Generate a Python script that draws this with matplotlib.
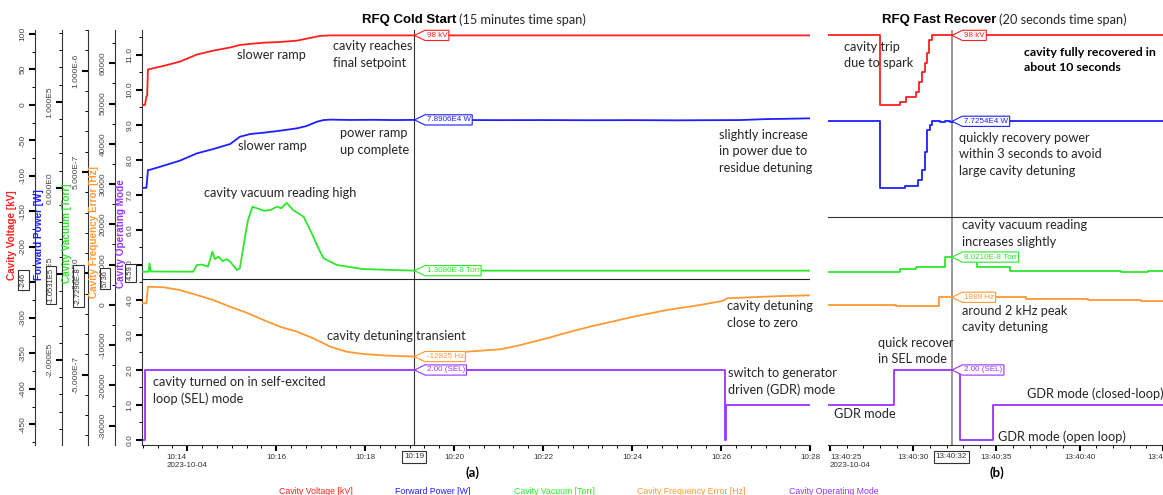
import numpy as np
import pandas as pd
import matplotlib
matplotlib.use("Agg")
import matplotlib.pyplot as plt
import matplotlib.dates as mdates
from matplotlib.ticker import AutoMinorLocator, MultipleLocator, FuncFormatter
from matplotlib.lines import Line2D
from matplotlib.path import Path

plt.rcParams["font.family"] = ["Liberation Sans", "DejaVu Sans"]

DAY = "2023-10-04"

# ---------------- (a) RFQ cold start, 15 minutes ----------------
cold_volt_t = ["10:12:59", "10:13:03", "10:13:05", "10:13:06", "10:13:07", "10:13:28", "10:13:50",
               "10:14:13", "10:14:35", "10:14:58", "10:15:11", "10:15:25", "10:15:43", "10:16:05",
               "10:16:28", "10:16:41", "10:16:59", "10:17:13", "10:19:06", "10:28:00"]
cold_volt = [0, 0, 12, 13, 50, 55, 61, 71, 76.5, 81, 84.5, 86, 87.7, 88.7, 90.6, 93.4, 97.2, 98, 98, 98]

cold_pow_t = ["10:12:59", "10:13:05", "10:13:07", "10:13:10", "10:13:28", "10:13:50", "10:14:13",
              "10:14:35", "10:14:58", "10:15:11", "10:15:25", "10:15:43", "10:16:05", "10:16:28",
              "10:16:41", "10:16:55", "10:17:04", "10:17:13", "10:17:40", "10:18:10", "10:18:40",
              "10:19:06", "10:20:00", "10:21:00", "10:22:00", "10:23:00", "10:24:00", "10:25:00",
              "10:26:00", "10:26:26", "10:27:00", "10:27:30", "10:28:00"]
cold_pow = [0, 0, 2.07e4, 2.1e4, 2.57e4, 3.15e4, 4.0e4, 4.5e4, 5.09e4, 5.93e4, 6.25e4, 6.4e4,
            6.63e4, 6.91e4, 7.18e4, 7.68e4, 7.87e4, 7.92e4, 7.88e4, 7.9e4, 7.87e4, 7.89e4, 7.88e4,
            7.86e4, 7.87e4, 7.85e4, 7.86e4, 7.84e4, 7.86e4, 7.87e4, 7.98e4, 8.02e4, 8.07e4]

cold_vac_t = ["10:12:59", "10:13:08", "10:13:09", "10:13:11", "10:14:08", "10:14:13", "10:14:20",
              "10:14:28", "10:14:34", "10:14:37", "10:14:42", "10:14:48", "10:14:53", "10:14:58",
              "10:15:04", "10:15:07", "10:15:11", "10:15:18", "10:15:22", "10:15:28", "10:15:43",
              "10:15:52", "10:16:01", "10:16:07", "10:16:14", "10:16:23", "10:16:37", "10:16:48",
              "10:16:57", "10:17:04", "10:17:22", "10:17:57", "10:19:06", "10:28:00"]
cold_vac = [7.9e-9, 7.9e-9, 4.9e-8, 9e-9, 8e-9, 4.1e-8, 4.3e-8, 3.3e-8, 1.07e-7, 7.0e-8, 8.2e-8,
            6.0e-8, 7.0e-8, 5.7e-8, 3.0e-8, 1.6e-8, 2.5e-8, 1.81e-7, 2.63e-7, 3.29e-7, 3.09e-7,
            3.12e-7, 3.29e-7, 3.21e-7, 3.48e-7, 3.12e-7, 2.79e-7, 1.97e-7, 1.23e-7, 7.4e-8, 4.1e-8,
            2.1e-8, 1.308e-8, 1.3e-8]

cold_freq_t = ["10:12:59", "10:13:05", "10:13:07", "10:13:28", "10:13:50", "10:14:13", "10:14:35",
               "10:14:58", "10:15:20", "10:15:43", "10:16:05", "10:16:28", "10:16:50", "10:17:13",
               "10:17:35", "10:17:57", "10:18:30", "10:19:06", "10:19:54", "10:20:17", "10:21:02",
               "10:21:24", "10:22:00", "10:22:32", "10:23:03", "10:24:02", "10:24:47", "10:25:32",
               "10:26:03", "10:26:08", "10:26:39", "10:27:24", "10:28:00"]
cold_freq = [400, 400, 4520, 4370, 3700, 2460, 1220, -450, -1940, -3750, -5410, -6650, -8290,
             -10380, -11620, -12190, -12600, -12825, -12400, -11620, -11030, -10210, -8540, -6900,
             -5410, -2930, -1270, -20, 1040, 1640, 1890, 2210, 2380]

cold_mode_t = ["10:12:59", "10:13:03", "10:26:05", "10:26:07", "10:28:00"]
cold_mode = [0, 2, 0, 1, 1]

cold_range = ["10:12:59", "10:28:00"]
cold_cursor = "10:19:06"

# ---------------- (b) RFQ fast recover, 20 seconds ----------------
fast_volt_t = ["13:40:24.8", "13:40:28.0", "13:40:29.2", "13:40:29.55", "13:40:30.15", "13:40:30.35",
               "13:40:30.5", "13:40:30.7", "13:40:30.83", "13:40:30.95", "13:40:31.15", "13:40:45.0"]
fast_volt = [98, 0, 4.7, 11.7, 18.7, 32.8, 46.9, 58.7, 72.8, 91.5, 98, 98]

fast_pow_t = ["13:40:24.8", "13:40:28.0", "13:40:29.5", "13:40:30.3", "13:40:30.5", "13:40:30.7",
              "13:40:30.84", "13:40:31.0", "13:40:31.15", "13:40:31.6", "13:40:31.9", "13:40:32.2",
              "13:40:32.5", "13:40:37.5", "13:40:42.7", "13:40:43.1", "13:40:44.2", "13:40:44.5",
              "13:40:45.0"]
fast_pow = [7.73e4, 0, 1.6e3, 9.3e3, 2.1e4, 4.2e4, 6.7e4, 7.3e4, 7.75e4, 7.7e4, 7.76e4, 7.7e4,
            7.725e4, 7.76e4, 7.72e4, 7.76e4, 7.72e4, 7.76e4, 7.76e4]

fast_vac_t = ["13:40:24.8", "13:40:29.2", "13:40:30.17", "13:40:31.9", "13:40:33.8", "13:40:35.8",
              "13:40:42.5", "13:40:44.1", "13:40:45.0"]
fast_vac = [7.9e-9, 1.97e-8, 2.96e-8, 8.021e-8, 2.96e-8, 1.1e-8, 5e-9, 1.1e-8, 1.1e-8]

fast_freq_t = ["13:40:24.8", "13:40:28.96", "13:40:31.55", "13:40:36.8", "13:40:40.5", "13:40:43.7",
               "13:40:45.0"]
fast_freq = [80, -170, 1889, 1470, 1320, 1070, 1070]

fast_mode_t = ["13:40:24.8", "13:40:28.83", "13:40:32.8", "13:40:34.8", "13:40:45.0"]
fast_mode = [1, 2, 0, 1, 1]

fast_range = ["13:40:24.88", "13:40:45.0"]
fast_cursor = "13:40:32.3"

# axis ranges and cursor readouts
volt_lim = (-479, 105.6)
pow_lim = (-2.987e5, 1.833e5)
vac_lim = (-8.475e-7, 1.201e-6)
freq_lim = (-34790, 68265)
mode_lim = (-0.143, 11.714)
cold_hcursor = 4.59
fast_hcursor = 6.37

C_VOLT = "#ff1f1f"
C_POW = "#1f1fff"
C_VAC = "#2ee62e"
C_FREQ = "#ff9933"
C_MODE = "#9933ff"
TXT = "#262626"

series_names = ["Cavity Voltage [kV]", "Forward Power [W]", "Cavity Vacuum [Torr]",
                "Cavity Frequency Error [Hz]", "Cavity Operating Mode"]
series_colors = [C_VOLT, C_POW, C_VAC, C_FREQ, C_MODE]


def tm(lst):
    return pd.to_datetime([f"{DAY} {t}" for t in lst]).to_numpy()


def one(t):
    return mdates.date2num(np.datetime64(pd.Timestamp(f"{DAY} {t}")))


W, H = 1163, 495
fig = plt.figure(figsize=(W / 100, H / 100), dpi=100)


def fx(x):
    return x / W


def fy(y):
    return 1 - y / H


def sci(v, pos=None):
    if v == 0:
        return "0.000E0"
    e = int(np.floor(np.log10(abs(v)) + 1e-9))
    return f"{v / 10 ** e:.3f}E{e}"


def tag_box(x0, y0, width, height, mutation_size):
    pad = 0.2 * mutation_size
    tip = 1.3 * mutation_size
    x0, y0 = x0 - pad, y0 - pad
    x1, y1 = x0 + width + 2 * pad, y0 + height + 2 * pad
    ym = (y0 + y1) / 2
    return Path([(x0 - tip, ym), (x0, y0), (x1, y0), (x1, y1), (x0, y1), (x0 - tip, ym)], closed=True)


def build_panel(rect, show_y):
    ax_mode = fig.add_axes(rect)
    ax_freq = ax_mode.twinx()
    ax_vac = ax_mode.twinx()
    ax_pow = ax_mode.twinx()
    ax_volt = ax_mode.twinx()
    axes = [ax_volt, ax_pow, ax_vac, ax_freq, ax_mode]
    lims = [volt_lim, pow_lim, vac_lim, freq_lim, mode_lim]
    offsets = [35, 62, 88, 115, 142]
    majors = [50, 1e5, 5e-7, 10000, 1.0]
    minors = [2, 5, 5, 2, 2]
    fmts = [lambda v, p: f"{v:.0f}", sci, sci, lambda v, p: f"{v:.0f}", lambda v, p: f"{v:.1f}"]
    for ax, lim, off, mj, mn, fm in zip(axes, lims, offsets, majors, minors, fmts):
        ax.set_ylim(*lim)
        for s in ["top", "right"]:
            ax.spines[s].set_visible(False)
        if ax is not ax_mode:
            ax.spines["bottom"].set_visible(False)
        if show_y:
            ax.yaxis.set_ticks_position("left")
            ax.spines["left"].set_visible(True)
            ax.spines["left"].set_position(("axes", (off - 142) / 668))
            ax.spines["left"].set_color("#333333")
            ax.spines["left"].set_linewidth(0.8)
            ax.yaxis.set_major_locator(MultipleLocator(mj))
            ax.yaxis.set_minor_locator(AutoMinorLocator(mn))
            ax.yaxis.set_major_formatter(FuncFormatter(fm))
            ax.tick_params(axis="y", which="major", length=4.5, width=1.5, labelsize=6,
                           labelcolor="#444444", labelrotation=90, pad=1.5)
            ax.tick_params(axis="y", which="minor", length=2.2, width=0.7)
            for t in ax.yaxis.get_major_ticks():
                t.label1.set_verticalalignment("center")
        else:
            ax.spines["left"].set_visible(False)
            ax.yaxis.set_visible(False)
    ax_mode.spines["bottom"].set_color("#333333")
    ax_mode.spines["bottom"].set_linewidth(0.8)
    ax_mode.tick_params(axis="x", which="major", length=4.5, width=1.5, labelsize=5.8,
                        labelcolor="#333333", pad=2)
    ax_mode.tick_params(axis="x", which="minor", length=2.2, width=0.7)
    return axes


cold_axes = build_panel([fx(142), 1 - 445 / H, 668 / W, 415 / H], True)
fast_axes = build_panel([fx(828), 1 - 445 / H, 335 / W, 415 / H], False)

# cold start traces
cold_data = [(cold_volt_t, cold_volt), (cold_pow_t, cold_pow), (cold_vac_t, cold_vac),
             (cold_freq_t, cold_freq), (cold_mode_t, cold_mode)]
for ax, (t, v), c in zip(cold_axes, cold_data, series_colors):
    ds = "steps-post" if ax is cold_axes[4] else "default"
    ax.plot(tm(t), v, color=c, lw=1.3, drawstyle=ds)

fast_data = [(fast_volt_t, fast_volt), (fast_pow_t, fast_pow), (fast_vac_t, fast_vac),
             (fast_freq_t, fast_freq), (fast_mode_t, fast_mode)]
for ax, (t, v), c in zip(fast_axes, fast_data, series_colors):
    ax.plot(tm(t), v, color=c, lw=1.3, drawstyle="steps-post")

# x axes
axa = cold_axes[4]
axb = fast_axes[4]
axa.set_xlim(tm(cold_range))
axb.set_xlim(tm(fast_range))


def make_fmt(ax, fmt, step):
    def f(x, pos):
        s = mdates.num2date(x).strftime(fmt)
        x0 = ax.get_xlim()[0]
        if x0 - 1e-9 <= x < x0 + step:
            s += "\n" + DAY
        return s
    return FuncFormatter(f)


axa.xaxis.set_major_locator(mdates.MinuteLocator(byminute=range(0, 60, 2)))
axa.xaxis.set_minor_locator(mdates.SecondLocator(bysecond=[0, 20, 40]))
axa.xaxis.set_major_formatter(make_fmt(axa, "%H:%M", 2 / 1440))
axb.xaxis.set_major_locator(mdates.SecondLocator(bysecond=range(0, 60, 5)))
axb.xaxis.set_minor_locator(mdates.SecondLocator())
axb.xaxis.set_major_formatter(make_fmt(axb, "%H:%M:%S", 5 / 86400))

# cursors
axa.axvline(one(cold_cursor), color="#333333", lw=0.8, zorder=1)
axa.axhline(cold_hcursor, color="#222222", lw=0.8, zorder=1)
axb.axvline(one(fast_cursor), color="#888888", lw=1.2, zorder=1)
axb.axhline(fast_hcursor, color="#333333", lw=0.8, zorder=1)

cold_tags = ["98 kV", "7.8906E4 W", "1.3080E-8 Torr", "-12825 Hz", "2.00 (SEL)"]
cold_tag_vals = [98, 7.8906e4, 1.308e-8, -12825, 2.0]
fast_tags = ["98 kV", "7.7254E4 W", "8.0210E-8 Torr", "1889 Hz", "2.00 (SEL)"]
fast_tag_vals = [98, 7.7254e4, 8.021e-8, 1889, 2.0]
for axes, cur, tags, vals in [(cold_axes, cold_cursor, cold_tags, cold_tag_vals),
                              (fast_axes, fast_cursor, fast_tags, fast_tag_vals)]:
    for ax, txt, v, c in zip(axes, tags, vals, series_colors):
        ax.annotate(txt, xy=(one(cur), v), xytext=(9, 0), textcoords="offset points",
                    ha="left", va="center", fontsize=5.8, color=c, zorder=20,
                    annotation_clip=False,
                    bbox=dict(boxstyle=tag_box, fc="white", ec=c, lw=0.8))

for ax, cur, txt in [(axa, cold_cursor, "10:19"), (axb, fast_cursor, "13:40:32")]:
    ax.text(one(cur), -0.0289, txt, transform=ax.get_xaxis_transform(), ha="center",
            va="center", fontsize=5.8, color="#333333", zorder=20,
            bbox=dict(boxstyle="square,pad=0.25", fc="white", ec="#333333", lw=0.8))

# y axis titles and horizontal cursor readouts on the left
label_pos = [(12, 280), (39, 280), (67, 283), (94, 298), (121, 288)]
for (x, y), name, c in zip(label_pos, series_names, series_colors):
    fig.text(fx(x), fy(y), name, rotation=90, ha="center", va="bottom", color=c,
             fontsize=7.2, fontweight="bold")
readouts = [("-246", 23.5, 280), ("-1.0531E5", 51, 285), ("-2.7296E-8", 78.5, 286),
            ("5736", 105, 278.5), ("4.59", 130.5, 273)]
for txt, x, y in readouts:
    fig.text(fx(x), fy(y), txt, rotation=90, ha="center", va="center", fontsize=5.5,
             color="#333333", zorder=20,
             bbox=dict(boxstyle="square,pad=0.25", fc="white", ec="#333333", lw=0.8))

# titles
fig.text(fx(456), fy(20), "RFQ Cold Start", ha="right", va="center", fontsize=9.5, fontweight="bold")
fig.text(fx(459), fy(20), "(15 minutes time span)", ha="left", va="center", fontsize=9.2,
         family="Lato", color=TXT)
fig.text(fx(996), fy(20), "RFQ Fast Recover", ha="right", va="center", fontsize=9.5, fontweight="bold")
fig.text(fx(999), fy(20), "(20 seconds time span)", ha="left", va="center", fontsize=9.2,
         family="Lato", color=TXT)
fig.text(fx(472), fy(473), "(a)", ha="center", va="center", fontsize=9.5, family="Lato",
         fontweight="bold")
fig.text(fx(997), fy(473), "(b)", ha="center", va="center", fontsize=9.5, family="Lato",
         fontweight="bold")

notes = [
    ("slower ramp", 237, 55, "normal"),
    ("cavity reaches\nfinal setpoint", 333, 54.7, "normal"),
    ("slower ramp", 238.5, 146, "normal"),
    ("power ramp\nup complete", 340, 141.3, "normal"),
    ("cavity vacuum reading high", 204, 193.3, "normal"),
    ("slightly increase\nin power due to\nresidue detuning", 719, 151.4, "normal"),
    ("cavity detuning transient", 327, 335.7, "normal"),
    ("cavity turned on in self-excited\nloop (SEL) mode", 153.3, 390.3, "normal"),
    ("cavity detuning\nclose to zero", 726.7, 314.3, "normal"),
    ("switch to generator\ndriven (GDR) mode", 728.3, 381.3, "normal"),
    ("cavity trip\ndue to spark", 844, 55, "normal"),
    ("cavity fully recovered in\nabout 10 seconds", 1024, 59.7, "bold"),
    ("quickly recovery power\nwithin 3 seconds to avoid\nlarge cavity detuning", 959, 154.2, "normal"),
    ("cavity vacuum reading\nincreases slightly", 962.3, 233.7, "normal"),
    ("around 2 kHz peak\ncavity detuning", 962.3, 319, "normal"),
    ("quick recover\nin SEL mode", 877.7, 351, "normal"),
    ("GDR mode", 834, 414.3, "normal"),
    ("GDR mode (closed-loop)", 1027.3, 393.3, "normal"),
    ("GDR mode (open loop)", 997.7, 436.7, "normal"),
]
for txt, x, y, w in notes:
    fs = 9.2 if w == "normal" else 8.9
    fig.text(fx(x), fy(y), txt, ha="left", va="center", fontsize=fs, family="Lato",
             fontweight=w, color=TXT if w == "normal" else "black", linespacing=1.45, zorder=15)

handles = [Line2D([], [], color=c, lw=0) for c in series_colors]
fig.legend(handles, series_names, loc="center", bbox_to_anchor=(fx(578.5), fy(491)), ncol=5,
           frameon=False, handlelength=0, handletextpad=0, columnspacing=4.9, fontsize=6.3,
           labelcolor="linecolor", borderpad=0)

fig.canvas.draw()
for lbl in axa.get_xticklabels():
    lbl.set_multialignment("left")
for lbl in axb.get_xticklabels():
    if DAY in lbl.get_text():
        lbl.set_horizontalalignment("left")
        lbl.set_multialignment("left")

fig.savefig("out.png", dpi=100)
